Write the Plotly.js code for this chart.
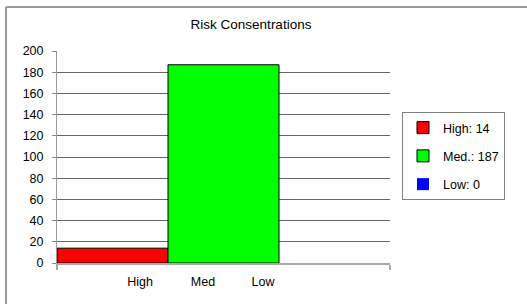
<!DOCTYPE html>
<html>
<head>
<meta charset="utf-8">
<script src="https://cdn.plot.ly/plotly-3.0.1.min.js"></script>
<style>
html,body{margin:0;padding:0;background:#fff;}
#chart{width:527px;height:304px;}
</style>
</head>
<body>
<div id="chart"></div>
<script>
// ---- data ----
const categories = ["High", "Med", "Low"];
const legendLabels = ["High", "Med.", "Low"];
const values = [14, 187, 0];
const colors = ["#ff0000", "#00ff00", "#0000ff"];
const yTicks = [0, 20, 40, 60, 80, 100, 120, 140, 160, 180, 200];
const chartTitle = "Risk Consentrations";

// ---- layout constants ----
const W = 527, H = 304;
const M = {l: 57, r: 137, t: 51, b: 41};
const labelPos = [0.248, 0.815, 1.356]; // where Excel drew the category labels
const font = {family: "Liberation Sans, Arial, sans-serif", size: 12, color: "#000"};

const traces = categories.map((c, i) => ({
  type: "bar",
  x: [i],
  y: [values[i]],
  width: 1,
  name: legendLabels[i] + ": " + values[i],
  legendgroup: "g" + i,
  marker: {color: colors[i], line: {color: "#000", width: values[i] > 0 ? 1 : 0}},
  hoverinfo: "skip"
}));

const pw = W - M.l - M.r, ph = H - M.t - M.b;
const frameX = (6 - M.l) / pw;
const frameY = (H - 7 - M.b) / ph;

const layout = {
  width: W, height: H,
  margin: M,
  paper_bgcolor: "#fff",
  plot_bgcolor: "#fff",
  font: font,
  barmode: "overlay",
  showlegend: true,
  title: {text: chartTitle, x: 251 / W, xref: "container", xanchor: "center",
          y: 1 - 24 / H, yref: "container", yanchor: "middle",
          font: {family: font.family, size: 13.5, color: "#000"}},
  xaxis: {
    range: [-0.5, 2.5], fixedrange: true,
    tickmode: "array", tickvals: labelPos, ticktext: categories,
    ticks: "", showgrid: false, zeroline: false,
    showline: true, linecolor: "#a8a8a8", linewidth: 2,
    ticklabelstandoff: 6,
    tickfont: {family: font.family, size: 12.5, color: "#000"},
    minor: {tickmode: "linear", tick0: -0.5, dtick: 3, ticks: "outside", ticklen: 5,
            tickcolor: "#a8a8a8", tickwidth: 2, showgrid: false}
  },
  yaxis: {
    range: [0, 200], fixedrange: true,
    tickmode: "array", tickvals: yTicks,
    ticks: "outside", ticklen: 4, tickcolor: "#888", tickwidth: 1,
    showgrid: true, gridcolor: "#666", gridwidth: 1,
    zeroline: false, showline: true, linecolor: "#999", linewidth: 1,
    ticklabelstandoff: 6,
    tickfont: {family: font.family, size: 12.5, color: "#000"}
  },
  legend: {
    x: (402 - M.l) / pw, xanchor: "left", xref: "paper",
    y: (H - 112 - M.b) / ph, yanchor: "top", yref: "paper",
    bordercolor: "#808080", borderwidth: 1, bgcolor: "#fff",
    font: {family: font.family, size: 12.5, color: "#000"},
    traceorder: "grouped", tracegroupgap: 9,
    entrywidth: 78, itemclick: false, itemdoubleclick: false
  },
  shapes: [
    {type: "line", xref: "paper", yref: "paper", x0: frameX, x1: 2, y0: frameY, y1: frameY,
     line: {color: "#999", width: 2}},
    {type: "line", xref: "paper", yref: "paper", x0: frameX, x1: frameX, y0: frameY, y1: -1,
     line: {color: "#999", width: 2}}
  ]
};

Plotly.newPlot("chart", traces, layout, {displayModeBar: false, staticPlot: true});
</script>
</body>
</html>
